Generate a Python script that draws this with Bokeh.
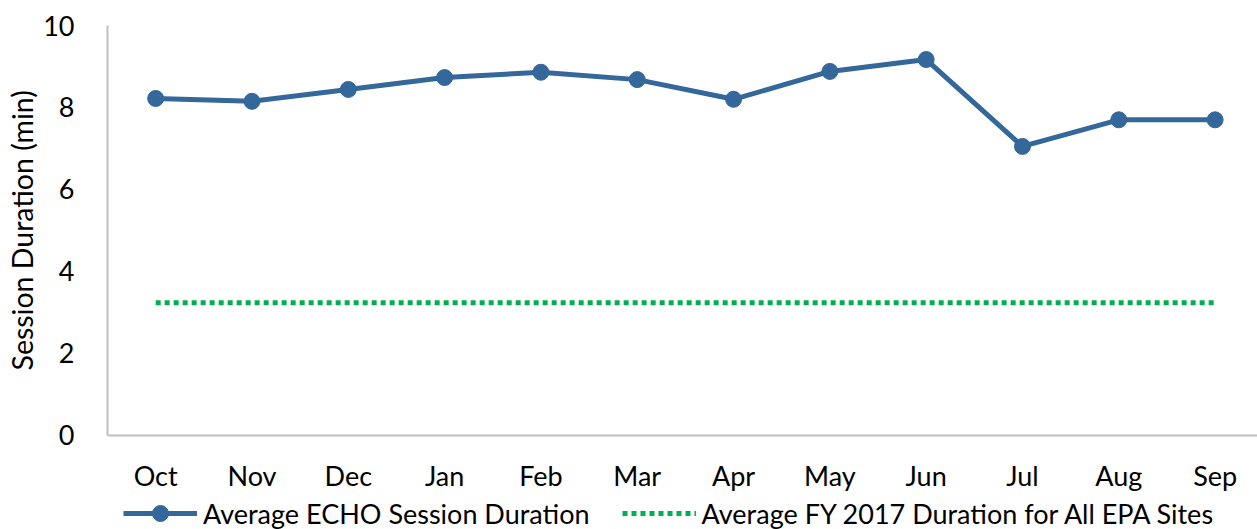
from bokeh.plotting import figure
from bokeh.models import FixedTicker, Legend, LegendItem, Range1d, Title
from bokeh.embed import file_html
from bokeh.resources import INLINE

months = ["Oct", "Nov", "Dec", "Jan", "Feb", "Mar", "Apr", "May", "Jun", "Jul", "Aug", "Sep"]
echo_duration = [8.22, 8.15, 8.44, 8.73, 8.86, 8.68, 8.2, 8.88, 9.17, 7.05, 7.7, 7.7]
epa_average = [3.24] * 12
y_ticks = [0, 2, 4, 6, 8, 10]

xs = list(range(len(months)))
FONT = "Lato"

p = figure(width=1257, height=529, output_backend="svg", toolbar_location=None,
           x_range=Range1d(-0.5, 11.44), y_range=Range1d(-2.293, 10),
           min_border_left=107, min_border_right=0, min_border_top=25, min_border_bottom=0)
p.outline_line_color = None
p.grid.grid_line_color = None

l1 = p.line(xs, echo_duration, line_color="#34679A", line_width=5)
c1 = p.scatter(xs, echo_duration, size=16, fill_color="#34679A", line_color="#34679A")
l2 = p.line(xs, epa_average, line_color="#00B050", line_width=5, line_dash="5 4")

p.xaxis.ticker = FixedTicker(ticks=xs)
p.xaxis.major_label_overrides = {i: m for i, m in enumerate(months)}
p.xaxis.fixed_location = 0
p.yaxis.ticker = FixedTicker(ticks=y_ticks)
p.yaxis.bounds = (0, 10)
for ax in (p.xaxis, p.yaxis):
    ax.axis_line_color = "#BFBFBF"
    ax.axis_line_width = 2
    ax.major_tick_line_color = None
    ax.minor_tick_line_color = None
    ax.major_label_text_font = FONT
    ax.major_label_text_font_size = "27px"
    ax.major_label_text_color = "#000000"
p.xaxis.major_label_standoff = 18
p.yaxis.major_label_standoff = 27

ytitle = Title(text="Session Duration (min)", align="left", offset=159, standoff=4,
               text_font=FONT, text_font_size="28.5px", text_font_style="normal",
               text_color="#000000")
p.add_layout(ytitle, "left")

legend = Legend(items=[LegendItem(label="Average ECHO Session Duration", renderers=[l1, c1]),
                       LegendItem(label="Average FY 2017 Duration for All EPA Sites", renderers=[l2])],
                location=(16, -4), orientation="horizontal")
legend.label_text_font = FONT
legend.label_text_font_size = "27px"
legend.label_text_color = "#000000"
legend.glyph_width = 74
legend.glyph_height = 40
legend.spacing = 32
legend.padding = 0
legend.margin = 0
legend.label_standoff = 6
legend.border_line_color = None
legend.background_fill_alpha = 0
p.add_layout(legend, "center")

open("out.html", "w").write(file_html(p, INLINE))
